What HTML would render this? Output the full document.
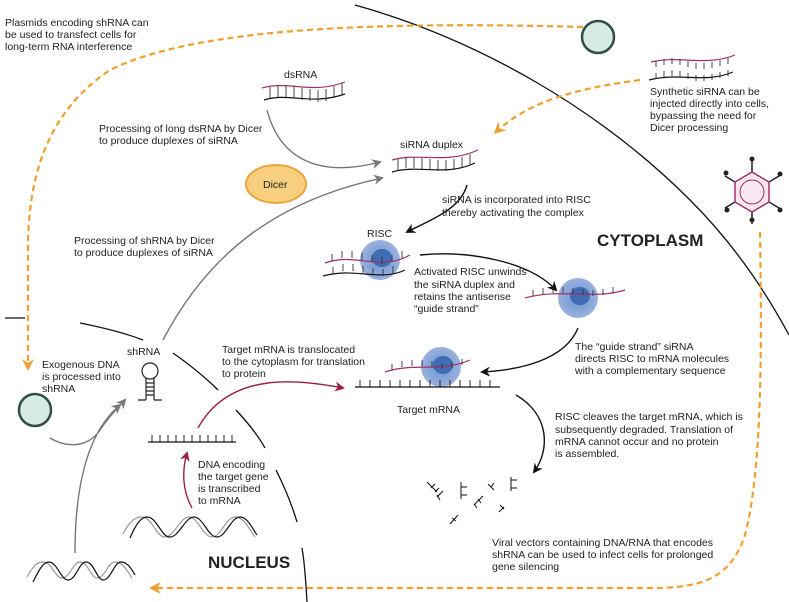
<!DOCTYPE html>
<html><head><meta charset="utf-8"><style>
html,body{margin:0;padding:0;background:#fff;width:789px;height:602px;overflow:hidden}
svg{display:block}
text{font-family:"Liberation Sans",Arial,sans-serif;font-size:10.5px;fill:#222}
.b{font-weight:bold;font-size:17px;fill:#222}
</style></head><body>
<svg width="789" height="602" viewBox="0 0 789 602" xmlns="http://www.w3.org/2000/svg">
<defs>
<marker id="ag" markerWidth="10" markerHeight="10" refX="8" refY="5" orient="auto" markerUnits="userSpaceOnUse"><path d="M0,0 L10,5 L0,10 L3,5z" fill="#777"/></marker>
<marker id="ak" markerWidth="10" markerHeight="10" refX="8" refY="5" orient="auto" markerUnits="userSpaceOnUse"><path d="M0,0 L10,5 L0,10 L3,5z" fill="#111"/></marker>
<marker id="ar" markerWidth="10" markerHeight="10" refX="8" refY="5" orient="auto" markerUnits="userSpaceOnUse"><path d="M0,0 L10,5 L0,10 L3,5z" fill="#9b2048"/></marker>
<marker id="ao" markerWidth="12" markerHeight="12" refX="9" refY="6" orient="auto" markerUnits="userSpaceOnUse"><path d="M0,0 L12,6 L0,12 L4,6z" fill="#f0a030"/></marker>
<radialGradient id="rg"><stop offset="0" stop-color="#5a86c8"/><stop offset="1" stop-color="#8fa9dc"/></radialGradient>
</defs>
<path d="M355,5 C480,40 600,110 690,200 C740,250 770,300 789,335" fill="none" stroke="#111" stroke-width="1.3"/>
<g stroke="#111" stroke-width="1.3" fill="none">
<path d="M5,318 L25,318"/><path d="M80,323 C105,328 125,333 143,340"/>
<path d="M173,353 C190,365 205,377 218,390"/><path d="M236,410 C248,423 258,435 265,448"/>
<path d="M276,470 C285,488 292,505 297,522"/><path d="M302,548 C305,565 306,585 307,602"/>
</g>
<g stroke="#f0a030" stroke-width="2.2" stroke-dasharray="6,4" fill="none">
<path d="M583,27 C400,22 200,25 110,70 C50,110 30,170 28,240 L28,368" marker-end="url(#ao)"/>
<path d="M640,80 C580,88 530,100 496,132" marker-end="url(#ao)"/>
<path d="M760,232 C762,350 762,470 745,535 C730,580 700,588 650,588 L152,588" marker-end="url(#ao)"/>
</g>
<circle cx="598" cy="37" r="16" fill="#d6ebe4" stroke="#2f4f47" stroke-width="2.5"/>
<circle cx="35" cy="410" r="16" fill="#d6ebe4" stroke="#2f4f47" stroke-width="2.5"/>
<g fill="none" stroke-width="1.2">
<path d="M262,88 C290,80 310,95 345,82" stroke="#a0306a"/>
<path d="M264,100 C290,92 310,106 345,94" stroke="#111"/>
<path d="M270,87v12M278,85v12M286,85v12M294,86v12M302,88v12M310,89v12M318,90v12M326,89v12M334,86v12M342,83v12" stroke="#333" stroke-width="0.9"/>
<path d="M392,160 C420,152 445,165 478,150" stroke="#a0306a"/>
<path d="M392,172 C420,164 445,177 475,163" stroke="#111"/>
<path d="M398,159v11M406,157v11M414,157v11M422,158v11M430,159v11M438,160v11M446,160v11M454,159v11M462,157v11M470,154v11" stroke="#333" stroke-width="0.9"/>
<path d="M651,62 C680,55 705,67 735,55" stroke="#a0306a"/>
<path d="M649,80 C680,72 705,84 733,72" stroke="#111"/>
<path d="M656,61v18M664,59v18M672,58v18M680,59v18M688,61v18M696,63v18M704,63v18M712,62v18M720,60v18M728,58v18" stroke="#333" stroke-width="0.9" stroke-dasharray="6,6"/>
</g>
<ellipse cx="276" cy="184" rx="30" ry="19" fill="#f6cf7f" stroke="#eaa53a" stroke-width="2"/>
<text x="263" y="188">Dicer</text>
<circle cx="380" cy="260" r="20" fill="url(#rg)" opacity="0.9"/><ellipse cx="382" cy="258" rx="10" ry="9" fill="#3f6db3"/>
<circle cx="578" cy="298" r="20" fill="url(#rg)" opacity="0.9"/><ellipse cx="580" cy="296" rx="10" ry="9" fill="#3f6db3"/>
<circle cx="441" cy="367" r="20" fill="url(#rg)" opacity="0.9"/><ellipse cx="443" cy="365" rx="10" ry="9" fill="#3f6db3"/>
<g fill="none" stroke-width="1.2">
<path d="M325,263 C355,252 380,272 410,255" stroke="#a0306a"/>
<path d="M323,276 C355,267 380,282 405,270" stroke="#111"/>
<path d="M332,261v-7M342,258v-7M352,258v-7M362,260v-7M372,262v-7M382,264v-7M392,262v-7M402,258v-7M333,274v-7M343,271v-7M353,271v-7M363,273v-7M373,275v-7M383,276v-7M393,273v-7" stroke="#333" stroke-width="0.9"/>
<path d="M525,298 C560,288 595,300 625,290" stroke="#a0306a"/>
<path d="M533,296v-6M543,294v-6M553,293v-6M563,293v-6M573,294v-6M583,295v-6M593,296v-6M603,295v-6M613,293v-6" stroke="#333" stroke-width="0.9"/>
<path d="M385,372 C415,362 440,373 470,360" stroke="#a0306a"/>
<path d="M392,370v-6M402,367v-6M412,366v-6M422,366v-6M432,367v-6M442,369v-6M452,368v-6M462,365v-6" stroke="#333" stroke-width="0.9"/>
<path d="M355,387 H500" stroke="#111"/>
<path d="M360,387v-7M370,387v-7M380,387v-7M390,387v-7M400,387v-7M410,387v-7M420,387v-7M430,387v-7M440,387v-7M450,387v-7M460,387v-7M470,387v-7M480,387v-7M490,387v-7" stroke="#111" stroke-width="0.9"/>
<path d="M148,442 H236" stroke="#111"/>
<path d="M152,442v-7M160,442v-7M168,442v-7M176,442v-7M184,442v-7M192,442v-7M200,442v-7M208,442v-7M216,442v-7M224,442v-7M232,442v-7" stroke="#111" stroke-width="0.9"/>
<g stroke="#111" stroke-width="1">
<path d="M427,482l10,10M431,488l4,-4M435,492l4,-4"/><path d="M437,497l6,-6M440,500l-3,-5"/>
<path d="M461,482v17M461,487h6M461,495h6"/><path d="M474,505l9,-9M477,508l-3,-4M481,503l-3,-4"/>
<path d="M488,484l6,6M491,487l3,-4"/><path d="M511,477v14M511,480h6M511,488h6"/>
<path d="M450,524l8,-9M452,518l4,3"/><path d="M499,512l5,-5M500,505l4,4"/>
</g>
<circle cx="150" cy="371" r="8" stroke="#222"/>
<path d="M146,378v22M154,378v22M146,383h8M146,387h8M146,391h8M146,395h8M138,400h8M154,400h8" stroke="#222"/>
<!-- middle helix -->
<path d="M123,534 C130,520 136,517 142,517 C152,517 156,537 165,537 C174,537 180,517 189,517 C198,517 203,537 212,537 C221,537 226,517 235,517 C244,517 250,530 255,537" stroke="#999"/>
<path d="M130,538 C136,524 141,517 147,517 C157,517 161,537 170,537 C179,537 185,517 194,517 C203,517 208,537 217,537 C226,537 231,517 240,517 C248,517 253,530 257,535" stroke="#111"/>
<!-- bottom-left helix -->
<path d="M27,577 C33,566 37,562 43,562 C52,562 55,578 62,578 C70,578 73,562 80,562 C88,562 91,578 97,578 C105,578 108,562 115,562 C123,562 128,572 132,578" stroke="#999"/>
<path d="M33,582 C39,570 43,562 49,562 C57,562 61,580 68,580 C76,580 79,562 86,562 C94,562 97,580 103,580 C111,580 114,562 121,562 C128,562 132,570 135,575" stroke="#111"/>
</g>
<g stroke="#222" stroke-width="1.5" fill="none">
<path d="M752,172V160M769,182l10,-6M769,202l10,6M752,212v12M735,202l-10,6M735,182l-10,-6"/>
</g>
<g fill="#222"><circle cx="752" cy="159" r="2.5"/><circle cx="780" cy="174" r="2.5"/><circle cx="780" cy="210" r="2.5"/><circle cx="752" cy="220" r="2.5"/><circle cx="727" cy="210" r="2.5"/><circle cx="726" cy="173" r="2.5"/></g>
<polygon points="752,172 769,182 769,202 752,212 735,202 735,182" fill="#f7e7ee" stroke="#a0306a" stroke-width="1.5"/>
<circle cx="752" cy="192" r="12" fill="none" stroke="#a0306a"/>
<g fill="none" stroke-width="1.4">
<path d="M267,110 C280,160 320,178 380,162" stroke="#777" marker-end="url(#ag)"/>
<path d="M163,340 C210,250 280,200 382,178" stroke="#777" marker-end="url(#ag)"/>
<path d="M50,438 C70,450 90,445 100,430 C110,415 118,408 125,400" stroke="#777" marker-end="url(#ag)"/>
<path d="M75,553 C75,480 90,430 120,405" stroke="#777" marker-end="url(#ag)"/>
<path d="M467,185 C460,210 430,220 407,232" stroke="#111" marker-end="url(#ak)"/>
<path d="M420,255 C470,250 530,262 556,290" stroke="#111" marker-end="url(#ak)"/>
<path d="M578,328 C565,360 520,370 482,372" stroke="#111" marker-end="url(#ak)"/>
<path d="M516,395 C550,415 550,450 534,472" stroke="#111" marker-end="url(#ak)"/>
<path d="M198,428 C230,370 300,380 343,388" stroke="#9b2048" marker-end="url(#ar)"/>
<path d="M192,508 C182,490 182,470 187,453" stroke="#9b2048" marker-end="url(#ar)"/>
</g>
<text x="5" y="26">Plasmids encoding shRNA can</text>
<text x="5" y="38">be used to transfect cells for</text>
<text x="5" y="50">long-term RNA interference</text>
<text x="284" y="78">dsRNA</text>
<text x="99" y="132">Processing of long dsRNA by Dicer</text>
<text x="99" y="144">to produce duplexes of siRNA</text>
<text x="400" y="148">siRNA duplex</text>
<text x="442" y="203">siRNA is incorporated into RISC</text>
<text x="442" y="216">thereby activating the complex</text>
<text x="650" y="95">Synthetic siRNA can be</text>
<text x="650" y="107">injected directly into cells,</text>
<text x="650" y="119">bypassing the need for</text>
<text x="650" y="131">Dicer processing</text>
<text x="74" y="244">Processing of shRNA by Dicer</text>
<text x="74" y="256">to produce duplexes of siRNA</text>
<text x="367" y="237">RISC</text>
<text class="b" x="597" y="246">CYTOPLASM</text>
<text x="414" y="275">Activated RISC unwinds</text>
<text x="414" y="288">the siRNA duplex and</text>
<text x="414" y="300">retains the antisense</text>
<text x="414" y="312">“guide strand”</text>
<text x="575" y="350">The “guide strand” siRNA</text>
<text x="575" y="362">directs RISC to mRNA molecules</text>
<text x="575" y="374">with a complementary sequence</text>
<text x="222" y="353">Target mRNA is translocated</text>
<text x="222" y="365">to the cytoplasm for translation</text>
<text x="222" y="377">to protein</text>
<text x="127" y="355">shRNA</text>
<text x="42" y="368">Exogenous DNA</text>
<text x="42" y="380">is processed into</text>
<text x="42" y="392">shRNA</text>
<text x="397" y="413">Target mRNA</text>
<text x="555" y="420">RISC cleaves the target mRNA, which is</text>
<text x="555" y="433">subsequently degraded. Translation of</text>
<text x="555" y="445">mRNA cannot occur and no protein</text>
<text x="555" y="457">is assembled.</text>
<text x="198" y="468">DNA encoding</text>
<text x="198" y="480">the target gene</text>
<text x="198" y="492">is transcribed</text>
<text x="198" y="504">to mRNA</text>
<text x="492" y="546">Viral vectors containing DNA/RNA that encodes</text>
<text x="492" y="558">shRNA can be used to infect cells for prolonged</text>
<text x="492" y="570">gene silencing</text>
<text class="b" x="208" y="568">NUCLEUS</text>
</svg>
</body></html>
